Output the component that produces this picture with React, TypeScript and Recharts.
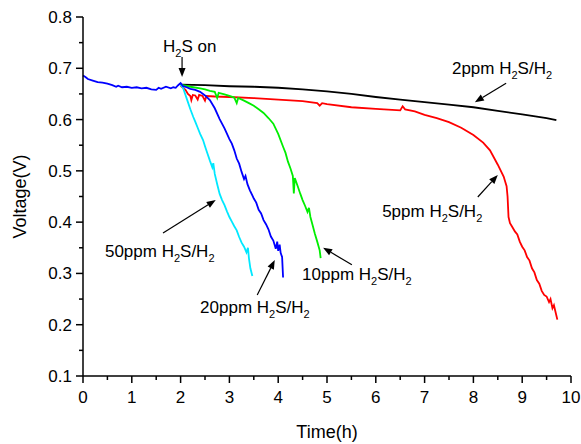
import React from "react";
import { Label, Line, LineChart, ReferenceDot, ReferenceLine, XAxis, YAxis } from "recharts";

type Pt = { t: number; v: number };

// baseline (0-2 h) + 20 ppm run, drawn in blue
const ppm20: Pt[] = [
  { t: 0, v: 0.686 }, { t: 0.05, v: 0.683 }, { t: 0.1, v: 0.679 }, { t: 0.2, v: 0.676 },
  { t: 0.3, v: 0.673 }, { t: 0.4, v: 0.672 }, { t: 0.5, v: 0.67 }, { t: 0.6, v: 0.667 },
  { t: 0.68, v: 0.664 }, { t: 0.72, v: 0.666 }, { t: 0.8, v: 0.663 }, { t: 0.9, v: 0.664 },
  { t: 1.0, v: 0.662 }, { t: 1.1, v: 0.663 }, { t: 1.2, v: 0.661 }, { t: 1.3, v: 0.662 },
  { t: 1.4, v: 0.659 }, { t: 1.5, v: 0.658 }, { t: 1.55, v: 0.662 }, { t: 1.6, v: 0.66 },
  { t: 1.7, v: 0.664 }, { t: 1.8, v: 0.661 }, { t: 1.85, v: 0.663 }, { t: 1.9, v: 0.662 },
  { t: 1.95, v: 0.667 }, { t: 2.0, v: 0.671 }, { t: 2.05, v: 0.665 }, { t: 2.1, v: 0.664 },
  { t: 2.2, v: 0.66 }, { t: 2.3, v: 0.658 }, { t: 2.4, v: 0.654 }, { t: 2.5, v: 0.647 },
  { t: 2.6, v: 0.638 }, { t: 2.7, v: 0.622 }, { t: 2.8, v: 0.601 }, { t: 2.9, v: 0.583 },
  { t: 3.0, v: 0.562 }, { t: 3.05, v: 0.553 }, { t: 3.1, v: 0.54 }, { t: 3.15, v: 0.524 },
  { t: 3.2, v: 0.514 }, { t: 3.25, v: 0.498 }, { t: 3.3, v: 0.484 }, { t: 3.33, v: 0.49 },
  { t: 3.37, v: 0.474 }, { t: 3.42, v: 0.462 }, { t: 3.47, v: 0.452 }, { t: 3.5, v: 0.446 },
  { t: 3.55, v: 0.438 }, { t: 3.6, v: 0.424 }, { t: 3.65, v: 0.417 }, { t: 3.7, v: 0.404 },
  { t: 3.75, v: 0.396 }, { t: 3.8, v: 0.386 }, { t: 3.85, v: 0.372 }, { t: 3.9, v: 0.364 },
  { t: 3.95, v: 0.348 }, { t: 3.98, v: 0.362 }, { t: 4.0, v: 0.344 }, { t: 4.03, v: 0.356 },
  { t: 4.05, v: 0.34 }, { t: 4.08, v: 0.332 }, { t: 4.1, v: 0.292 },
];

const ppm50: Pt[] = [
  { t: 2.0, v: 0.668 }, { t: 2.05, v: 0.662 }, { t: 2.1, v: 0.648 }, { t: 2.15, v: 0.634 },
  { t: 2.2, v: 0.62 }, { t: 2.26, v: 0.605 }, { t: 2.3, v: 0.596 }, { t: 2.35, v: 0.584 },
  { t: 2.4, v: 0.572 }, { t: 2.46, v: 0.56 }, { t: 2.5, v: 0.548 }, { t: 2.55, v: 0.534 },
  { t: 2.6, v: 0.52 }, { t: 2.65, v: 0.507 }, { t: 2.67, v: 0.515 }, { t: 2.7, v: 0.494 },
  { t: 2.75, v: 0.474 }, { t: 2.8, v: 0.455 }, { t: 2.85, v: 0.443 }, { t: 2.9, v: 0.433 },
  { t: 2.95, v: 0.421 }, { t: 3.0, v: 0.41 }, { t: 3.05, v: 0.401 }, { t: 3.1, v: 0.392 },
  { t: 3.15, v: 0.384 }, { t: 3.2, v: 0.371 }, { t: 3.25, v: 0.36 }, { t: 3.3, v: 0.352 },
  { t: 3.35, v: 0.341 }, { t: 3.38, v: 0.35 }, { t: 3.4, v: 0.33 }, { t: 3.43, v: 0.31 },
  { t: 3.47, v: 0.295 },
];

const ppm10: Pt[] = [
  { t: 2.0, v: 0.668 }, { t: 2.2, v: 0.664 }, { t: 2.4, v: 0.661 }, { t: 2.5, v: 0.659 },
  { t: 2.6, v: 0.656 }, { t: 2.7, v: 0.654 }, { t: 2.75, v: 0.642 }, { t: 2.78, v: 0.652 },
  { t: 2.9, v: 0.649 }, { t: 3.0, v: 0.646 }, { t: 3.1, v: 0.643 }, { t: 3.15, v: 0.632 },
  { t: 3.18, v: 0.642 }, { t: 3.3, v: 0.637 }, { t: 3.4, v: 0.632 }, { t: 3.5, v: 0.627 },
  { t: 3.6, v: 0.62 }, { t: 3.7, v: 0.613 }, { t: 3.8, v: 0.603 }, { t: 3.9, v: 0.592 },
  { t: 4.0, v: 0.572 }, { t: 4.1, v: 0.547 }, { t: 4.15, v: 0.535 }, { t: 4.2, v: 0.518 },
  { t: 4.25, v: 0.505 }, { t: 4.3, v: 0.49 }, { t: 4.32, v: 0.456 }, { t: 4.34, v: 0.486 },
  { t: 4.4, v: 0.47 }, { t: 4.45, v: 0.456 }, { t: 4.5, v: 0.443 }, { t: 4.55, v: 0.432 },
  { t: 4.6, v: 0.42 }, { t: 4.63, v: 0.428 }, { t: 4.66, v: 0.41 }, { t: 4.7, v: 0.396 },
  { t: 4.75, v: 0.378 }, { t: 4.8, v: 0.362 }, { t: 4.85, v: 0.345 }, { t: 4.87, v: 0.33 },
];

const ppm5: Pt[] = [
  { t: 2.0, v: 0.666 }, { t: 2.1, v: 0.658 }, { t: 2.15, v: 0.65 }, { t: 2.2, v: 0.646 },
  { t: 2.22, v: 0.638 }, { t: 2.25, v: 0.648 }, { t: 2.3, v: 0.647 }, { t: 2.35, v: 0.639 },
  { t: 2.38, v: 0.648 }, { t: 2.45, v: 0.646 }, { t: 2.5, v: 0.637 }, { t: 2.53, v: 0.646 },
  { t: 2.7, v: 0.645 }, { t: 3.0, v: 0.644 }, { t: 3.5, v: 0.642 }, { t: 4.0, v: 0.639 },
  { t: 4.5, v: 0.636 }, { t: 4.8, v: 0.632 }, { t: 4.85, v: 0.627 }, { t: 4.9, v: 0.632 },
  { t: 5.0, v: 0.63 }, { t: 5.5, v: 0.624 }, { t: 6.0, v: 0.621 }, { t: 6.5, v: 0.618 },
  { t: 6.55, v: 0.626 }, { t: 6.6, v: 0.62 }, { t: 6.8, v: 0.616 }, { t: 7.0, v: 0.609 },
  { t: 7.25, v: 0.603 }, { t: 7.5, v: 0.595 }, { t: 7.75, v: 0.584 }, { t: 8.0, v: 0.57 },
  { t: 8.2, v: 0.555 }, { t: 8.34, v: 0.54 }, { t: 8.5, v: 0.512 }, { t: 8.62, v: 0.489 },
  { t: 8.68, v: 0.47 }, { t: 8.7, v: 0.45 }, { t: 8.72, v: 0.41 }, { t: 8.75, v: 0.398 },
  { t: 8.8, v: 0.39 }, { t: 8.85, v: 0.382 }, { t: 8.9, v: 0.376 }, { t: 8.95, v: 0.362 },
  { t: 9.0, v: 0.352 }, { t: 9.05, v: 0.345 }, { t: 9.1, v: 0.332 }, { t: 9.15, v: 0.325 },
  { t: 9.2, v: 0.31 }, { t: 9.25, v: 0.302 }, { t: 9.3, v: 0.287 }, { t: 9.35, v: 0.28 },
  { t: 9.4, v: 0.266 }, { t: 9.45, v: 0.258 }, { t: 9.5, v: 0.255 }, { t: 9.55, v: 0.244 },
  { t: 9.58, v: 0.25 }, { t: 9.62, v: 0.232 }, { t: 9.65, v: 0.238 }, { t: 9.7, v: 0.218 },
  { t: 9.72, v: 0.21 },
];

const ppm2: Pt[] = [
  { t: 2.0, v: 0.668 }, { t: 2.5, v: 0.667 }, { t: 3.0, v: 0.665 }, { t: 3.5, v: 0.664 },
  { t: 4.0, v: 0.662 }, { t: 4.5, v: 0.659 }, { t: 5.0, v: 0.655 }, { t: 5.5, v: 0.65 },
  { t: 6.0, v: 0.644 }, { t: 6.5, v: 0.639 }, { t: 7.0, v: 0.634 }, { t: 7.5, v: 0.629 },
  { t: 8.0, v: 0.624 }, { t: 8.5, v: 0.617 }, { t: 9.0, v: 0.61 }, { t: 9.5, v: 0.603 },
  { t: 9.7, v: 0.599 },
];

const xTicks = [0, 0.5, 1, 1.5, 2, 2.5, 3, 3.5, 4, 4.5, 5, 5.5, 6, 6.5, 7, 7.5, 8, 8.5, 9, 9.5, 10];
const yTicks = [0.1, 0.15, 0.2, 0.25, 0.3, 0.35, 0.4, 0.45, 0.5, 0.55, 0.6, 0.65, 0.7, 0.75, 0.8];

// label text: [before subscript, sub, middle, sub]
const notes = [
  { x: 1.64, y: 0.732, parts: ["H", "2", "S on", ""] },
  { x: 7.56, y: 0.689, parts: ["2ppm H", "2", "S/H", "2"] },
  { x: 6.13, y: 0.41, parts: ["5ppm H", "2", "S/H", "2"] },
  { x: 0.45, y: 0.332, parts: ["50ppm H", "2", "S/H", "2"] },
  { x: 2.4, y: 0.223, parts: ["20ppm H", "2", "S/H", "2"] },
  { x: 4.49, y: 0.287, parts: ["10ppm H", "2", "S/H", "2"] },
];

const arrows = [
  [{ x: 2.03, y: 0.722 }, { x: 2.03, y: 0.683 }],
  [{ x: 8.67, y: 0.671 }, { x: 8.03, y: 0.634 }],
  [{ x: 8.09, y: 0.449 }, { x: 8.5, y: 0.492 }],
  [{ x: 1.64, y: 0.379 }, { x: 2.72, y: 0.443 }],
  [{ x: 3.57, y: 0.258 }, { x: 3.93, y: 0.326 }],
  [{ x: 5.51, y: 0.317 }, { x: 4.92, y: 0.35 }],
];

const font = "Arial, 'Liberation Sans', sans-serif";

function XTick({ x, y, payload }: any) {
  const major = Number.isInteger(payload.value);
  return (
    <g>
      <line x1={x} x2={x} y1={y} y2={y + (major ? 7 : 4)} stroke="#000" strokeWidth={1.5} />
      {major && (
        <text x={x} y={y + 27} textAnchor="middle" fontSize={17} fontFamily={font} fill="#000">
          {payload.value}
        </text>
      )}
    </g>
  );
}

function YTick({ x, y, payload }: any) {
  const major = Math.round(payload.value * 100) % 10 === 0;
  return (
    <g>
      <line x1={x} x2={x - (major ? 7 : 4)} y1={y} y2={y} stroke="#000" strokeWidth={1.5} />
      {major && (
        <text x={x - 11} y={y + 6} textAnchor="end" fontSize={17} fontFamily={font} fill="#000">
          {payload.value.toFixed(1)}
        </text>
      )}
    </g>
  );
}

function Arrow({ x1, y1, x2, y2 }: any) {
  const a = Math.atan2(y2 - y1, x2 - x1);
  const len = 9;
  const w = 3.5;
  const bx = x2 - len * Math.cos(a);
  const by = y2 - len * Math.sin(a);
  const px = -Math.sin(a) * w;
  const py = Math.cos(a) * w;
  return (
    <g>
      <line x1={x1} y1={y1} x2={bx} y2={by} stroke="#000" strokeWidth={1.2} />
      <polygon points={`${x2},${y2} ${bx + px},${by + py} ${bx - px},${by - py}`} fill="#000" />
    </g>
  );
}

function noteShape(parts: string[]) {
  return ({ cx, cy }: any) => (
    <text x={cx} y={cy} fontSize={17} fontFamily={font} fill="#000">
      {parts[0]}
      <tspan fontSize={11} dy={5}>{parts[1]}</tspan>
      <tspan dy={-5}>{parts[2]}</tspan>
      {parts[3] && <tspan fontSize={11} dy={5}>{parts[3]}</tspan>}
    </text>
  );
}

const series = [
  { data: ppm2, color: "#000000" },
  { data: ppm5, color: "#ff0000" },
  { data: ppm10, color: "#00ee00" },
  { data: ppm50, color: "#00e8ff" },
  { data: ppm20, color: "#0000ff" },
];

export default function App() {
  return (
    <div style={{ position: "absolute", left: 0, top: 0, background: "#fff" }}>
      <LineChart width={581} height={444} margin={{ top: 17, right: 10, bottom: 0, left: 0 }}>
        <XAxis
          type="number"
          dataKey="t"
          domain={[0, 10]}
          ticks={xTicks}
          interval={0}
          height={68}
          tickSize={0}
          tickMargin={0}
          tickLine={false}
          tick={<XTick />}
          axisLine={{ stroke: "#000", strokeWidth: 1.5 }}
        >
          <Label
            content={({ viewBox }: any) => (
              <text x={viewBox.x + viewBox.width / 2} y={viewBox.y + 62} textAnchor="middle" fontSize={18} fontFamily={font} fill="#000">
                Time(h)
              </text>
            )}
          />
        </XAxis>
        <YAxis
          type="number"
          domain={[0.1, 0.8]}
          ticks={yTicks}
          interval={0}
          width={83}
          tickSize={0}
          tickMargin={0}
          tickLine={false}
          tick={<YTick />}
          axisLine={{ stroke: "#000", strokeWidth: 1.5 }}
        >
          <Label
            content={({ viewBox }: any) => {
              const cx = 26;
              const cy = viewBox.y + viewBox.height / 2;
              return (
                <text x={cx} y={cy} transform={`rotate(-90 ${cx} ${cy})`} textAnchor="middle" fontSize={18} fontFamily={font} fill="#000">
                  Voltage(V)
                </text>
              );
            }}
          />
        </YAxis>
        <XAxis xAxisId="top" orientation="top" type="number" domain={[0, 10]} height={0} tick={false} tickLine={false} axisLine={{ stroke: "#000", strokeWidth: 1.5 }} />
        <YAxis yAxisId="right" orientation="right" type="number" domain={[0.1, 0.8]} width={0} tick={false} tickLine={false} axisLine={{ stroke: "#000", strokeWidth: 1.5 }} />
        {series.map((s, i) => (
          <Line
            key={i}
            data={s.data}
            dataKey="v"
            type="linear"
            stroke={s.color}
            strokeWidth={1.8}
            dot={false}
            isAnimationActive={false}
          />
        ))}
        {arrows.map((seg, i) => (
          <ReferenceLine key={`a${i}`} segment={seg} shape={<Arrow />} ifOverflow="visible" />
        ))}
        {notes.map((n, i) => (
          <ReferenceDot key={`n${i}`} x={n.x} y={n.y} r={0} shape={noteShape(n.parts)} ifOverflow="visible" />
        ))}
      </LineChart>
    </div>
  );
}
